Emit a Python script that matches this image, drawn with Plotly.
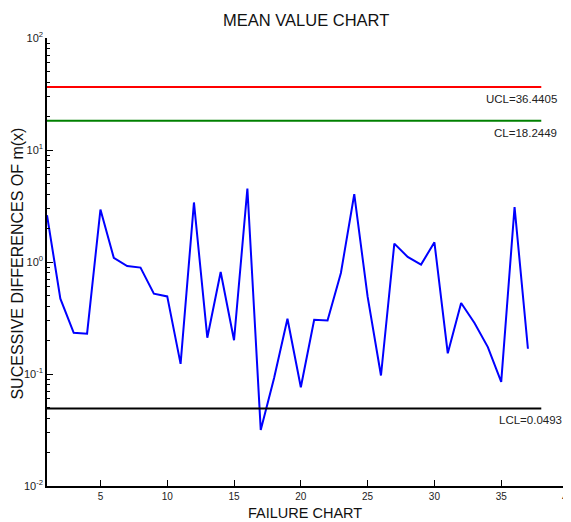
import math
import plotly.graph_objects as go

failure_index = list(range(1, 38))
succ_diff = [2.62, 0.471, 0.233, 0.229, 2.94, 1.09, 0.921, 0.891, 0.521, 0.493,
             0.123, 3.40, 0.211, 0.814, 0.200, 4.53, 0.0317, 0.092, 0.311, 0.0762,
             0.305, 0.301, 0.797, 4.03, 0.49, 0.097, 1.46, 1.11, 0.948, 1.50,
             0.153, 0.430, 0.285, 0.174, 0.085, 3.10, 0.168]

UCL = 36.4405
CL = 18.2449
LCL = 0.0493
line_x = [1, 38]

y_major = [0.01, 0.1, 1, 10, 100]
y_major_text = ["10<sup>-2</sup>", "10<sup>-1</sup>", "10<sup>0</sup>", "10<sup>1</sup>", "10<sup>2</sup>"]
x_ticks = [5, 10, 15, 20, 25, 30, 35, 40]

y_minor = [m * 10 ** e for e in (-2, -1, 0, 1) for m in range(2, 10)]

# page body has an 8px margin; figure is sized/placed to compensate
W, H = 563, 514
L, T, R, B = 38.6, 30, 3, 36.3
PW, PH = W - L - R, H - T - B

fig = go.Figure()
fig.add_trace(go.Scatter(x=failure_index, y=succ_diff, mode="lines",
                         line=dict(color="#0000ff", width=2), showlegend=False))
for val, col in ((UCL, "#ff0000"), (CL, "#008000"), (LCL, "#000000")):
    fig.add_trace(go.Scatter(x=line_x, y=[val, val], mode="lines",
                             line=dict(color=col, width=2), showlegend=False))

labels = [("UCL=36.4405", UCL, 39.3), ("CL=18.2449", CL, 39.3), ("LCL=0.0493", LCL, 39.7)]
for txt, val, xr in labels:
    fig.add_annotation(x=xr, y=math.log10(val), yref="y", xref="x", text=txt, showarrow=False,
                       xanchor="right", yanchor="top", yshift=-4,
                       font=dict(size=11.5, color="#222222", family="Liberation Sans"))

def px(xp):
    return (xp - L) / PW

def py(yp):
    return (H - B - yp) / PH

fig.add_annotation(x=px(298), y=py(12), xref="paper", yref="paper", text="MEAN VALUE CHART",
                   showarrow=False, xanchor="center", yanchor="middle",
                   font=dict(size=16.5, color="#111111"))
fig.add_annotation(x=px(297), y=py(505), xref="paper", yref="paper",
                   text="FAILURE CHART", showarrow=False, xanchor="center", yanchor="middle",
                   font=dict(size=14.5, color="#111111"))
fig.add_annotation(x=px(9), y=py(255), xref="paper", yref="paper",
                   text="SUCESSIVE DIFFERENCES OF m(x)", textangle=-90, showarrow=False,
                   xanchor="center", yanchor="middle", font=dict(size=16, color="#111111"))
# last x tick label (at the very edge of the page)
fig.add_annotation(x=x_ticks[-1], xref="x", y=py(489), yref="paper", text=str(x_ticks[-1]),
                   showarrow=False, xanchor="center", yanchor="middle",
                   font=dict(size=10, color="#222222"))

fig.update_layout(
    width=W, height=H,
    margin=dict(l=L, r=R, t=T, b=B, autoexpand=False),
    paper_bgcolor="white", plot_bgcolor="white",
    font=dict(family="Liberation Sans", color="#222222"),
)
fig.update_xaxes(range=[1, 40], tickmode="array", tickvals=x_ticks, automargin=False,
                 ticks="inside", ticklen=6, tickcolor="#000000",
                 showline=True, linecolor="#000000", linewidth=1.5,
                 showgrid=False, zeroline=False,
                 tickfont=dict(size=10, color="#222222"))
fig.update_yaxes(type="log", range=[-2, 2], tickmode="array", tickvals=y_major, automargin=False,
                 ticktext=y_major_text, ticks="inside", ticklen=6, tickcolor="#000000",
                 minor=dict(tickmode="array", tickvals=y_minor, ticks="inside", ticklen=3,
                            tickcolor="#000000", showgrid=False),
                 showline=True, linecolor="#000000", linewidth=1.5,
                 showgrid=False, zeroline=False,
                 tickfont=dict(size=11, color="#222222"))

fig.write_html("out.html")
